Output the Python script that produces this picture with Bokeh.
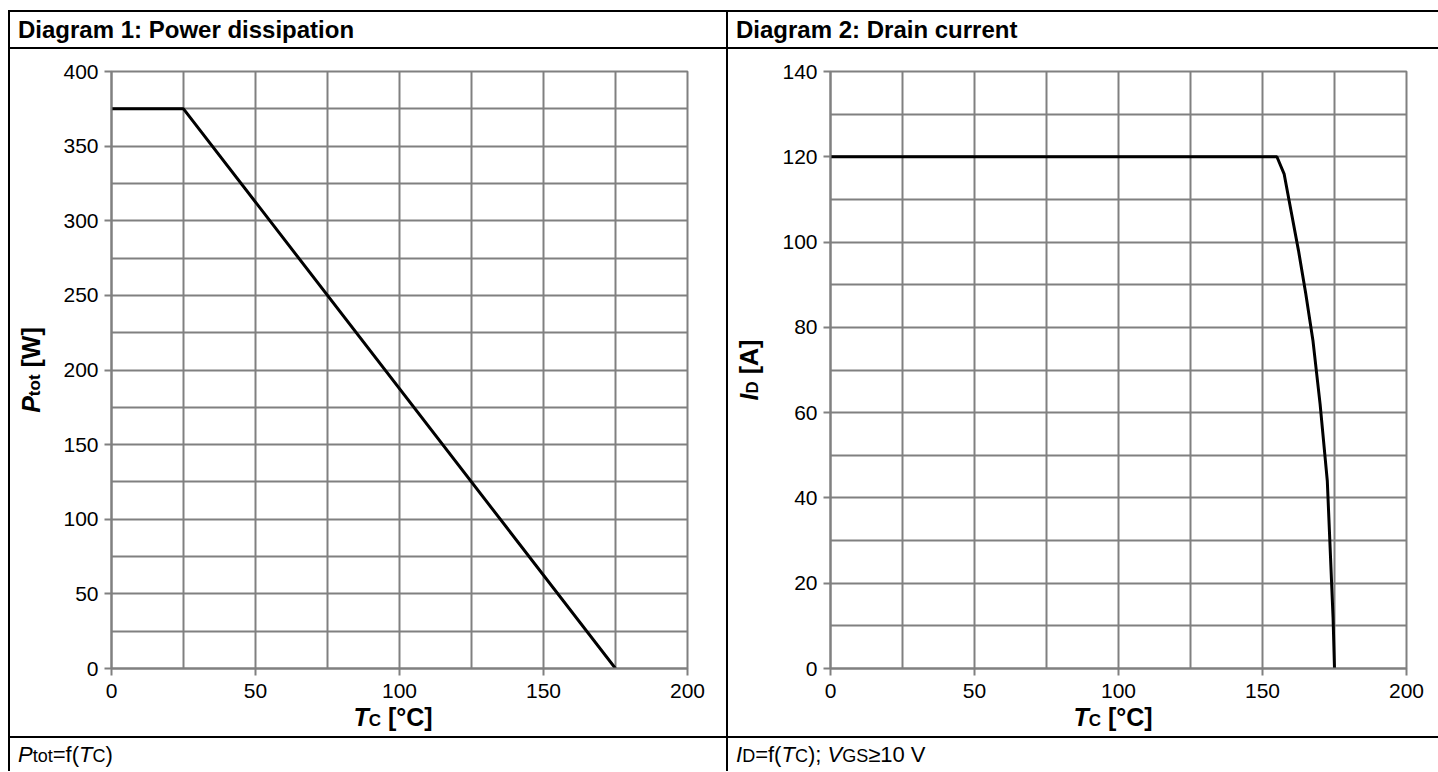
from bokeh.plotting import figure
from bokeh.models import Range1d, FixedTicker, Div, Spacer
from bokeh.layouts import row, column
from bokeh.embed import file_html
from bokeh.resources import INLINE

# ---------------- data ----------------
ptot_tc = [0, 25, 175]
ptot_w = [375, 375, 0]

id_tc = [0, 155, 157.5, 160, 162.5, 165, 167.5, 170, 172.5, 174.5, 175]
id_a = [120, 120, 116, 107, 98, 88, 77, 62, 44, 12, 0]

tc_ticks = [0, 50, 100, 150, 200]
tc_grid = [0, 25, 50, 75, 100, 125, 150, 175, 200]
ptot_ticks = [0, 50, 100, 150, 200, 250, 300, 350, 400]
ptot_grid = list(range(0, 401, 25))
id_ticks = [0, 20, 40, 60, 80, 100, 120, 140]
id_grid = list(range(0, 141, 10))

title1 = "Diagram 1: Power dissipation"
title2 = "Diagram 2: Drain current"

FONT = "Liberation Sans"
CSS_FONT = "font-family:'Liberation Sans',Arial,sans-serif;"
GRID = "#808080"

LAB = 25      # axis label size
LSUB = 17     # axis label subscript size
FOOT = 22
FSUB = 18

FIG_H = 661
XLAB_H = 687 - FIG_H


def make_panel(width, left, right, xs, ys, yr, yticks, ygrid):
    p = figure(width=width, height=FIG_H, x_range=Range1d(0, 200), y_range=Range1d(0, yr),
               output_backend="svg", toolbar_location=None,
               min_border_left=left, min_border_right=right,
               min_border_top=22, min_border_bottom=FIG_H - 22 - 597,
               background_fill_color="white", border_fill_color="white")
    p.margin = 0
    p.outline_line_color = GRID
    p.outline_line_width = 2
    p.xaxis.ticker = FixedTicker(ticks=tc_ticks)
    p.yaxis.ticker = FixedTicker(ticks=yticks)
    p.xgrid.ticker = FixedTicker(ticks=tc_grid)
    p.ygrid.ticker = FixedTicker(ticks=ygrid)
    p.grid.grid_line_color = GRID
    p.grid.grid_line_width = 2
    p.grid.grid_line_alpha = 1.0
    p.axis.axis_line_color = GRID
    p.axis.axis_line_width = 2
    p.axis.major_tick_line_color = GRID
    p.axis.major_tick_line_width = 2
    p.axis.major_tick_out = 7
    p.axis.major_tick_in = 0
    p.axis.minor_tick_line_color = None
    p.axis.major_label_text_font = FONT
    p.axis.major_label_text_font_size = "21px"
    p.axis.major_label_text_color = "black"
    p.xaxis.major_label_standoff = 8
    p.yaxis.major_label_standoff = 6
    p.line(xs, ys, line_color="black", line_width=3)
    return p


p1 = make_panel(666, 51, 39, ptot_tc, ptot_w, 400, ptot_ticks, ptot_grid)
p2 = make_panel(660, 52, 32, id_tc, id_a, 140, id_ticks, id_grid)


def line_div(w, h):
    return Div(text="", width=w, height=h, margin=0,
               styles={"background-color": "black"})


def text_div(html, w, h, size, bold, lh):
    weight = "bold" if bold else "normal"
    inner = (f'<div style="{CSS_FONT}'
             f'font-size:{size}px;font-weight:{weight};line-height:{lh}px;'
             f'padding-left:8px;white-space:nowrap;color:black;">{html}</div>')
    return Div(text=inner, width=w, height=h, margin=0)


def ylabel_div(html, w, h, center_shift, baseline_lh):
    # a horizontal block of size h x w rotated -90deg about its centre
    off = (h - w) / 2
    inner = (f'<div style="position:relative;left:{-off}px;top:{off}px;width:{h}px;'
             f'height:{w}px;box-sizing:border-box;padding-left:{2 * center_shift}px;'
             f'transform:rotate(-90deg);text-align:center;white-space:nowrap;'
             f'{CSS_FONT}font-size:{LAB}px;font-weight:bold;line-height:{baseline_lh}px;'
             f'color:black;">{html}</div>')
    return Div(text=inner, width=w, height=h, margin=0)


def xlabel_div(html, w, h, pad_left):
    inner = (f'<div style="box-sizing:border-box;width:{w}px;padding-left:{pad_left}px;'
             f'text-align:center;white-space:nowrap;{CSS_FONT}font-size:{LAB}px;'
             f'font-weight:bold;line-height:15px;color:black;">{html}</div>')
    return Div(text=inner, width=w, height=h, margin=0)


LS = f'style="font-size:{LSUB}px"'
xlab = f'<i>T</i><span {LS}>C</span> [°C]'
ylab1 = f'<i>P</i><span {LS}>tot</span> [W]'
ylab2 = f'<i>I</i><span {LS}>D</span> [A]'

SUB = f'style="font-size:{FSUB}px"'
foot1 = f'<i>P</i><span {SUB}>tot</span>=f(<i>T</i><span {SUB}>C</span>)'
foot2 = (f'<i>I</i><span {SUB}>D</span>=f(<i>T</i><span {SUB}>C</span>); '
         f'<i>V</i><span {SUB}>GS</span>&#8805;10 V')

center_shift = 7 + (FIG_H - 655) / 2
cell1 = column(row(ylabel_div(ylab1, 50, FIG_H, center_shift, 40), p1, margin=0),
               xlabel_div(xlab, 716, XLAB_H, 50), margin=0)
cell2 = column(row(ylabel_div(ylab2, 50, FIG_H, center_shift, 40), p2, margin=0),
               xlabel_div(xlab, 710, XLAB_H, 60), margin=0)

top_line = row(Spacer(width=8, height=2, margin=0), line_div(1430, 2), margin=0)
header = row(Spacer(width=8, height=35, margin=0), line_div(2, 35),
             text_div(title1, 716, 35, 24, True, 35), line_div(2, 35),
             text_div(title2, 710, 35, 24, True, 35), margin=0)
mid_line = row(Spacer(width=8, height=2, margin=0), line_div(1430, 2), margin=0)
body = row(Spacer(width=8, height=687, margin=0), line_div(2, 687), cell1,
           line_div(2, 687), cell2, margin=0)
low_line = row(Spacer(width=8, height=2, margin=0), line_div(1430, 2), margin=0)
footer = row(Spacer(width=8, height=33, margin=0), line_div(2, 33),
             text_div(foot1, 716, 33, FOOT, False, 34), line_div(2, 33),
             text_div(foot2, 710, 33, FOOT, False, 34), margin=0)

root = column(Spacer(width=1438, height=10, margin=0), top_line, header, mid_line, body,
              low_line, footer, margin=0)

open("out.html", "w").write(file_html(root, INLINE))
